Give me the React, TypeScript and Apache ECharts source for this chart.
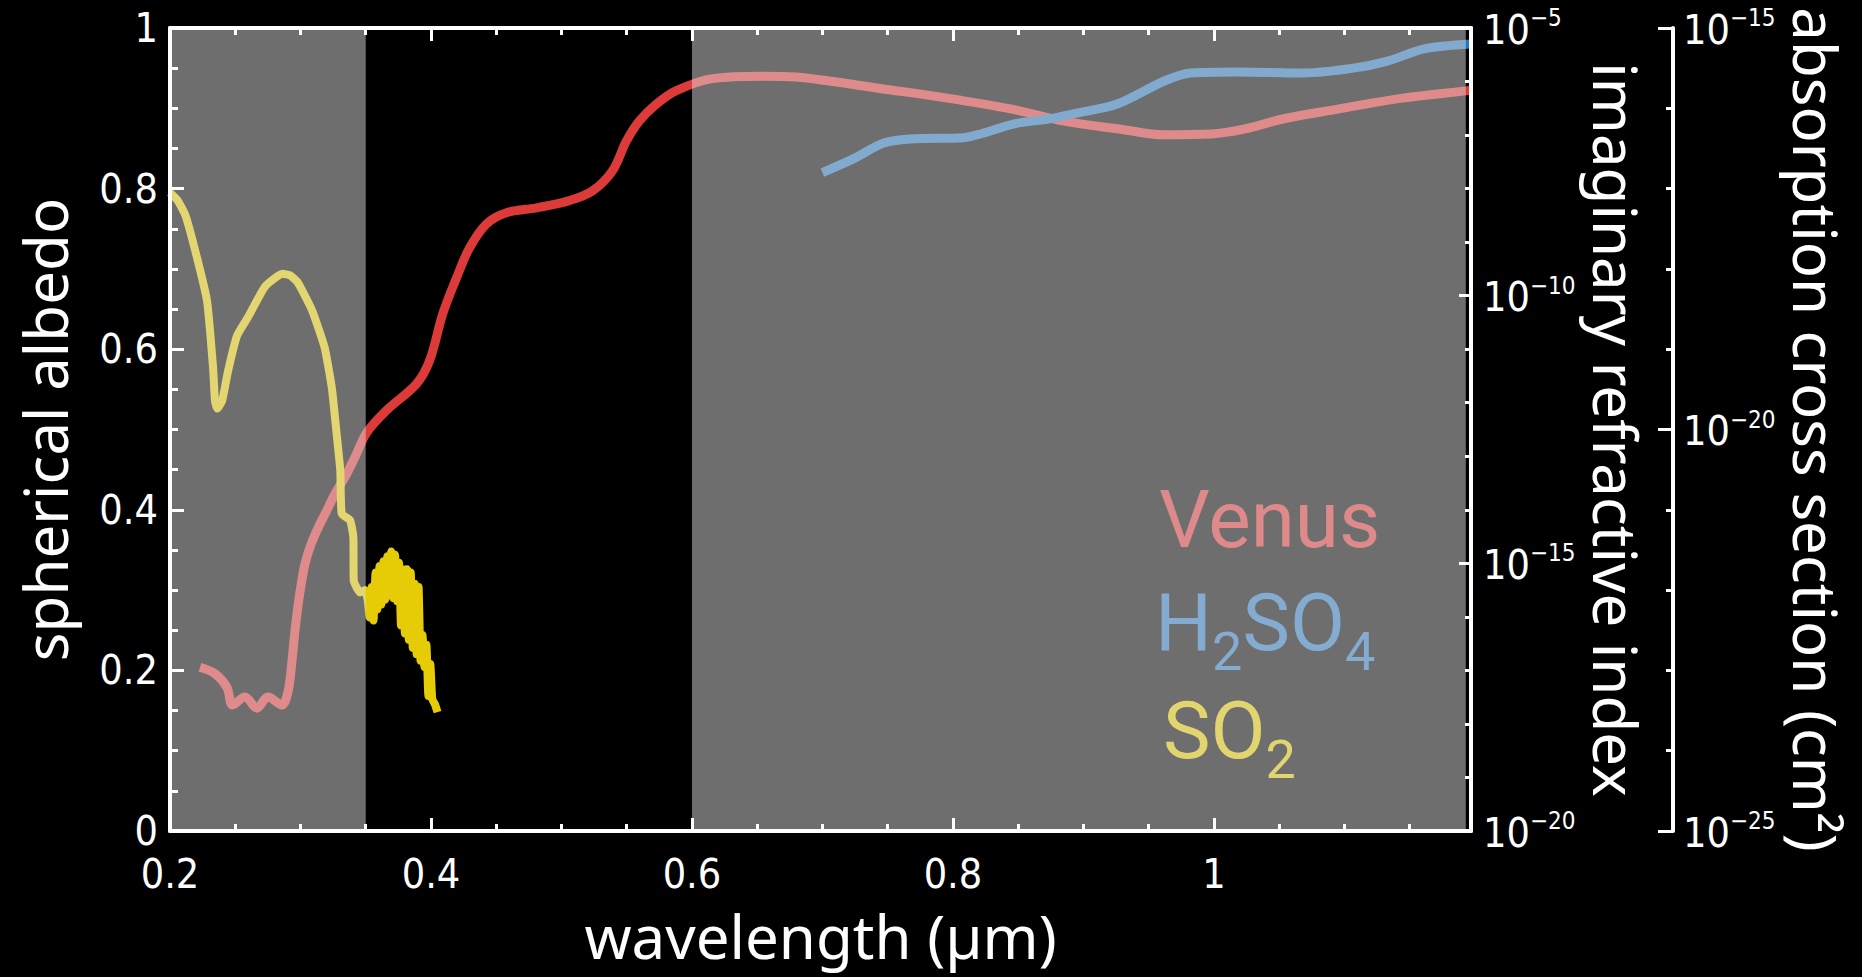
import { useEffect, useRef } from 'react';
import * as echarts from 'echarts';

// ---------- data ----------
// Venus spherical albedo vs wavelength (µm)
const venusWavelength = [
  0.223, 0.2344, 0.2436, 0.248, 0.2574, 0.2666, 0.275, 0.2857, 0.2906, 0.2933,
  0.2958, 0.2983, 0.301, 0.3035, 0.3074, 0.3125, 0.3189, 0.3265, 0.3342, 0.3419,
  0.3507, 0.366, 0.389, 0.399, 0.409,
  0.4196, 0.4295, 0.4425, 0.4578, 0.4808, 0.506, 0.5236, 0.539, 0.5497, 0.5596,
  0.5726, 0.588, 0.6155, 0.6537, 0.6797, 0.705, 0.743, 0.7945, 0.845, 0.885,
  0.9287, 0.9617, 0.9977, 1.023, 1.0537, 1.095, 1.1457, 1.1948, 1.197,
];
const venusAlbedo = [
  0.204, 0.196, 0.179, 0.157, 0.167, 0.153, 0.167, 0.157, 0.175, 0.209,
  0.25, 0.283, 0.312, 0.333, 0.354, 0.374, 0.395, 0.42, 0.441, 0.466,
  0.496, 0.524, 0.557, 0.586, 0.644,
  0.689, 0.726, 0.756, 0.77, 0.776, 0.785, 0.797, 0.822, 0.859, 0.884,
  0.905, 0.922, 0.937, 0.94, 0.939, 0.934, 0.925, 0.913, 0.899, 0.884,
  0.874, 0.867, 0.868, 0.874, 0.887, 0.899, 0.913, 0.922, 0.923,
];

// H2SO4 imaginary refractive index, log10(k)
const h2so4Wavelength = [
  0.7, 0.724, 0.747, 0.77, 0.808, 0.821, 0.847, 0.873, 0.893, 0.926,
  0.962, 0.982, 1.018, 1.069, 1.107, 1.133, 1.161, 1.197,
];
const h2so4Log10K = [
  -7.7, -7.44, -7.15, -7.07, -7.05, -6.98, -6.79, -6.7, -6.6, -6.42,
  -5.99, -5.84, -5.82, -5.84, -5.75, -5.62, -5.39, -5.3,
];

// SO2 absorption cross section, log10(sigma / cm^2)
const so2Wavelength = [
  0.2, 0.206, 0.212, 0.221, 0.2284, 0.233, 0.2345, 0.2362, 0.24, 0.2445,
  0.2514, 0.2598, 0.2729, 0.2862, 0.292, 0.298, 0.309, 0.3185, 0.324, 0.328,
  0.3305, 0.3316, 0.338, 0.3405, 0.3408, 0.3456, 0.3494,
  0.3515, 0.353, 0.3545, 0.356, 0.3575, 0.359, 0.3605, 0.362, 0.3635, 0.365,
  0.3665, 0.368, 0.3695, 0.371, 0.3725, 0.374, 0.3755, 0.377, 0.3785, 0.38,
  0.3815, 0.383, 0.3845, 0.386, 0.3875, 0.389, 0.3905, 0.392, 0.3935, 0.395,
  0.3965, 0.398, 0.3995, 0.401, 0.403, 0.405,
];
const so2Log10Sigma = [
  -17.05, -17.15, -17.34, -17.88, -18.4, -19.23, -19.65, -19.74, -19.64, -19.27,
  -18.83, -18.6, -18.22, -18.06, -18.08, -18.17, -18.52, -18.98, -19.48, -20.1,
  -20.51, -21.05, -21.13, -21.34, -21.88, -22.03, -22.0,
  -22.12, -22.34, -21.96, -22.38, -21.78, -22.24, -21.7, -22.18, -21.64, -22.12,
  -21.58, -22.06, -21.52, -22.1, -21.56, -22.14, -21.66, -22.44, -21.74, -22.54,
  -21.74, -22.62, -21.78, -22.72, -21.92, -22.8, -21.96, -22.88, -22.56, -22.96,
  -22.68, -23.32, -22.92, -23.36, -23.42, -23.52,
];

// shaded (translucent) wavelength bands
const shadeBands = [
  [0.2, 0.35],
  [0.6, 1.193],
];

const xTickValues = [0.2, 0.4, 0.6, 0.8, 1];
const albedoTicks = [0, 0.2, 0.4, 0.6, 0.8, 1];
const refractiveExponents = [-20, -15, -10, -5];
const crossSectionExponents = [-25, -20, -15];

// ---------- styling ----------
const WHITE = '#ffffff';
const TICK_FONT = "'Liberation Sans Narrow', 'DejaVu Sans Condensed', Roboto, sans-serif";
const TITLE_FONT = "'Noto Sans', 'DejaVu Sans', sans-serif";
const LEGEND_FONT = "Roboto, 'Noto Sans', sans-serif";
const SHADE = 'rgba(225,225,225,0.49)';
const VENUS_RAW = '#dd3a3a';
const H2SO4_RAW = '#2776bc';
const SO2_RAW = '#e5cc06';

const zip = (xs: number[], ys: number[]) => xs.map((x, i) => [x, ys[i]]);

const isTick = (v: number, list: number[]) => list.some((t) => Math.abs(t - v) < 1e-6);

const expRich = {
  b: { fontSize: 41, lineHeight: 44, verticalAlign: 'bottom', color: WHITE, fontFamily: TICK_FONT },
  s: { fontSize: 24, lineHeight: 18, verticalAlign: 'top', color: WHITE, fontFamily: TICK_FONT },
};

const legendRich = (color: string) => ({
  m: { fontSize: 80, lineHeight: 80, verticalAlign: 'top', fontFamily: LEGEND_FONT, fill: color },
  s: { fontSize: 54, lineHeight: 80, verticalAlign: 'top', padding: [41, 0, 0, 0], fontFamily: LEGEND_FONT, fill: color },
});

export default function App() {
  const ref = useRef<HTMLDivElement>(null);

  useEffect(() => {
    if (!ref.current) return;
    const chart = echarts.init(ref.current, undefined, { renderer: 'svg' });

    const tickStyle = { color: WHITE, width: 3 };
    const baseX = {
      type: 'value' as const,
      min: 0.2,
      max: 1.197,
      interval: 0.2,
      z: 20,
      axisLine: { show: true, lineStyle: { color: WHITE, width: 4 } },
      axisTick: { show: true, inside: true, length: 13, lineStyle: tickStyle },
      minorTick: { show: true, splitNumber: 4, length: 7, lineStyle: tickStyle },
      splitLine: { show: false },
      minorSplitLine: { show: false },
    };

    const option: any = {
      animation: false,
      backgroundColor: '#000000',
      grid: { left: 170, right: 391, top: 28, bottom: 146, containLabel: false },
      xAxis: [
        {
          ...baseX,
          position: 'bottom',
          name: 'wavelength (µm)',
          nameLocation: 'middle',
          nameGap: 75,
          nameTextStyle: { color: WHITE, fontSize: 60, lineHeight: 60, fontFamily: TITLE_FONT },
          axisLabel: {
            color: WHITE,
            fontSize: 41,
            fontFamily: TICK_FONT,
            margin: 22,
            formatter: (v: number) => (isTick(v, xTickValues) ? String(Math.round(v * 10) / 10) : ''),
          },
        },
        {
          ...baseX,
          position: 'top',
          axisLabel: { show: false },
        },
      ],
      yAxis: [
        {
          type: 'value',
          position: 'left',
          min: 0,
          max: 1,
          interval: 0.2,
          z: 20,
          name: 'spherical albedo',
          nameLocation: 'middle',
          nameGap: 95,
          nameTextStyle: { color: WHITE, fontSize: 60, fontFamily: TITLE_FONT },
          axisLine: { show: true, lineStyle: { color: WHITE, width: 4 } },
          axisTick: { show: true, inside: true, length: 14, lineStyle: tickStyle },
          minorTick: { show: true, splitNumber: 4, length: 8, lineStyle: tickStyle },
          splitLine: { show: false },
          axisLabel: {
            color: WHITE,
            fontSize: 41,
            fontFamily: TICK_FONT,
            margin: 12,
            formatter: (v: number) => (isTick(v, albedoTicks) ? String(Math.round(v * 10) / 10) : ''),
          },
        },
        {
          type: 'value',
          position: 'right',
          offset: 0,
          min: -20,
          max: -5,
          interval: 5,
          z: 20,
          name: 'imaginary refractive index',
          nameLocation: 'middle',
          nameRotate: -90,
          nameGap: 99,
          nameTextStyle: { color: WHITE, fontSize: 60, fontFamily: TITLE_FONT },
          axisLine: { show: true, lineStyle: { color: WHITE, width: 4 } },
          axisTick: { show: true, inside: true, length: 12, lineStyle: tickStyle },
          minorTick: { show: true, splitNumber: 5, length: 6, lineStyle: tickStyle },
          splitLine: { show: false },
          axisLabel: {
            margin: 12,
            formatter: (v: number) =>
              isTick(v, refractiveExponents) ? `{b|10}{s|\u2212${Math.abs(v)}}` : '',
            rich: expRich,
          },
        },
        {
          type: 'value',
          position: 'right',
          offset: 202,
          min: -25,
          max: -15,
          interval: 5,
          z: 20,
          name: 'absorption cross section (cm²)',
          nameLocation: 'middle',
          nameRotate: -90,
          nameGap: 105,
          nameTextStyle: { color: WHITE, fontSize: 60, fontFamily: TITLE_FONT },
          axisLine: { show: true, lineStyle: { color: WHITE, width: 4 } },
          axisTick: { show: true, inside: true, length: 15, lineStyle: tickStyle },
          minorTick: { show: true, splitNumber: 5, length: 7, lineStyle: tickStyle },
          splitLine: { show: false },
          axisLabel: {
            margin: 10,
            formatter: (v: number) =>
              isTick(v, crossSectionExponents) ? `{b|10}{s|\u2212${Math.abs(v)}}` : '',
            rich: expRich,
          },
        },
      ],
      series: [
        {
          name: 'Venus',
          type: 'line',
          xAxisIndex: 0,
          yAxisIndex: 0,
          data: zip(venusWavelength, venusAlbedo),
          showSymbol: false,
          smooth: 0.35,
          lineStyle: { color: VENUS_RAW, width: 9, join: 'round' },
          z: 3,
        },
        {
          name: 'H2SO4',
          type: 'line',
          xAxisIndex: 0,
          yAxisIndex: 1,
          data: zip(h2so4Wavelength, h2so4Log10K),
          showSymbol: false,
          smooth: 0.3,
          lineStyle: { color: H2SO4_RAW, width: 9, join: 'round' },
          z: 3,
        },
        {
          name: 'SO2',
          type: 'line',
          xAxisIndex: 0,
          yAxisIndex: 2,
          data: zip(so2Wavelength, so2Log10Sigma),
          showSymbol: false,
          smooth: 0.15,
          lineStyle: { color: SO2_RAW, width: 8, join: 'round' },
          z: 3,
        },
        {
          name: 'shade',
          type: 'custom',
          xAxisIndex: 0,
          yAxisIndex: 0,
          z: 10,
          silent: true,
          data: shadeBands.map((b) => [b[0], b[1], 0, 1]),
          encode: { x: [0, 1], y: [2, 3] },
          renderItem: (_params: any, api: any) => {
            const a = api.coord([api.value(0), api.value(3)]);
            const b = api.coord([api.value(1), api.value(2)]);
            return {
              type: 'rect',
              shape: { x: a[0], y: a[1], width: b[0] - a[0], height: b[1] - a[1] },
              style: { fill: SHADE },
            };
          },
        },
      ],
      graphic: [
        {
          type: 'text',
          x: 1159,
          y: 520,
          z: 100,
          style: {
            text: 'Venus',
            fill: '#df8a8a',
            fontSize: 80,
            fontFamily: LEGEND_FONT,
            verticalAlign: 'middle',
            align: 'left',
          },
        },
        {
          type: 'text',
          x: 1155,
          y: 623,
          z: 100,
          style: {
            text: '{m|H}{s|2}{m|SO}{s|4}',
            fill: '#84abd0',
            verticalAlign: 'middle',
            align: 'left',
            rich: legendRich('#84abd0'),
          },
        },
        {
          type: 'text',
          x: 1163,
          y: 731,
          z: 100,
          style: {
            text: '{m|SO}{s|2}',
            fill: '#e2d56f',
            verticalAlign: 'middle',
            align: 'left',
            rich: legendRich('#e2d56f'),
          },
        },
      ],
    };

    chart.setOption(option);
    return () => chart.dispose();
  }, []);

  return (
    <div
      ref={ref}
      style={{ position: 'absolute', left: 0, top: 0, width: 1862, height: 977, background: '#000' }}
    />
  );
}
